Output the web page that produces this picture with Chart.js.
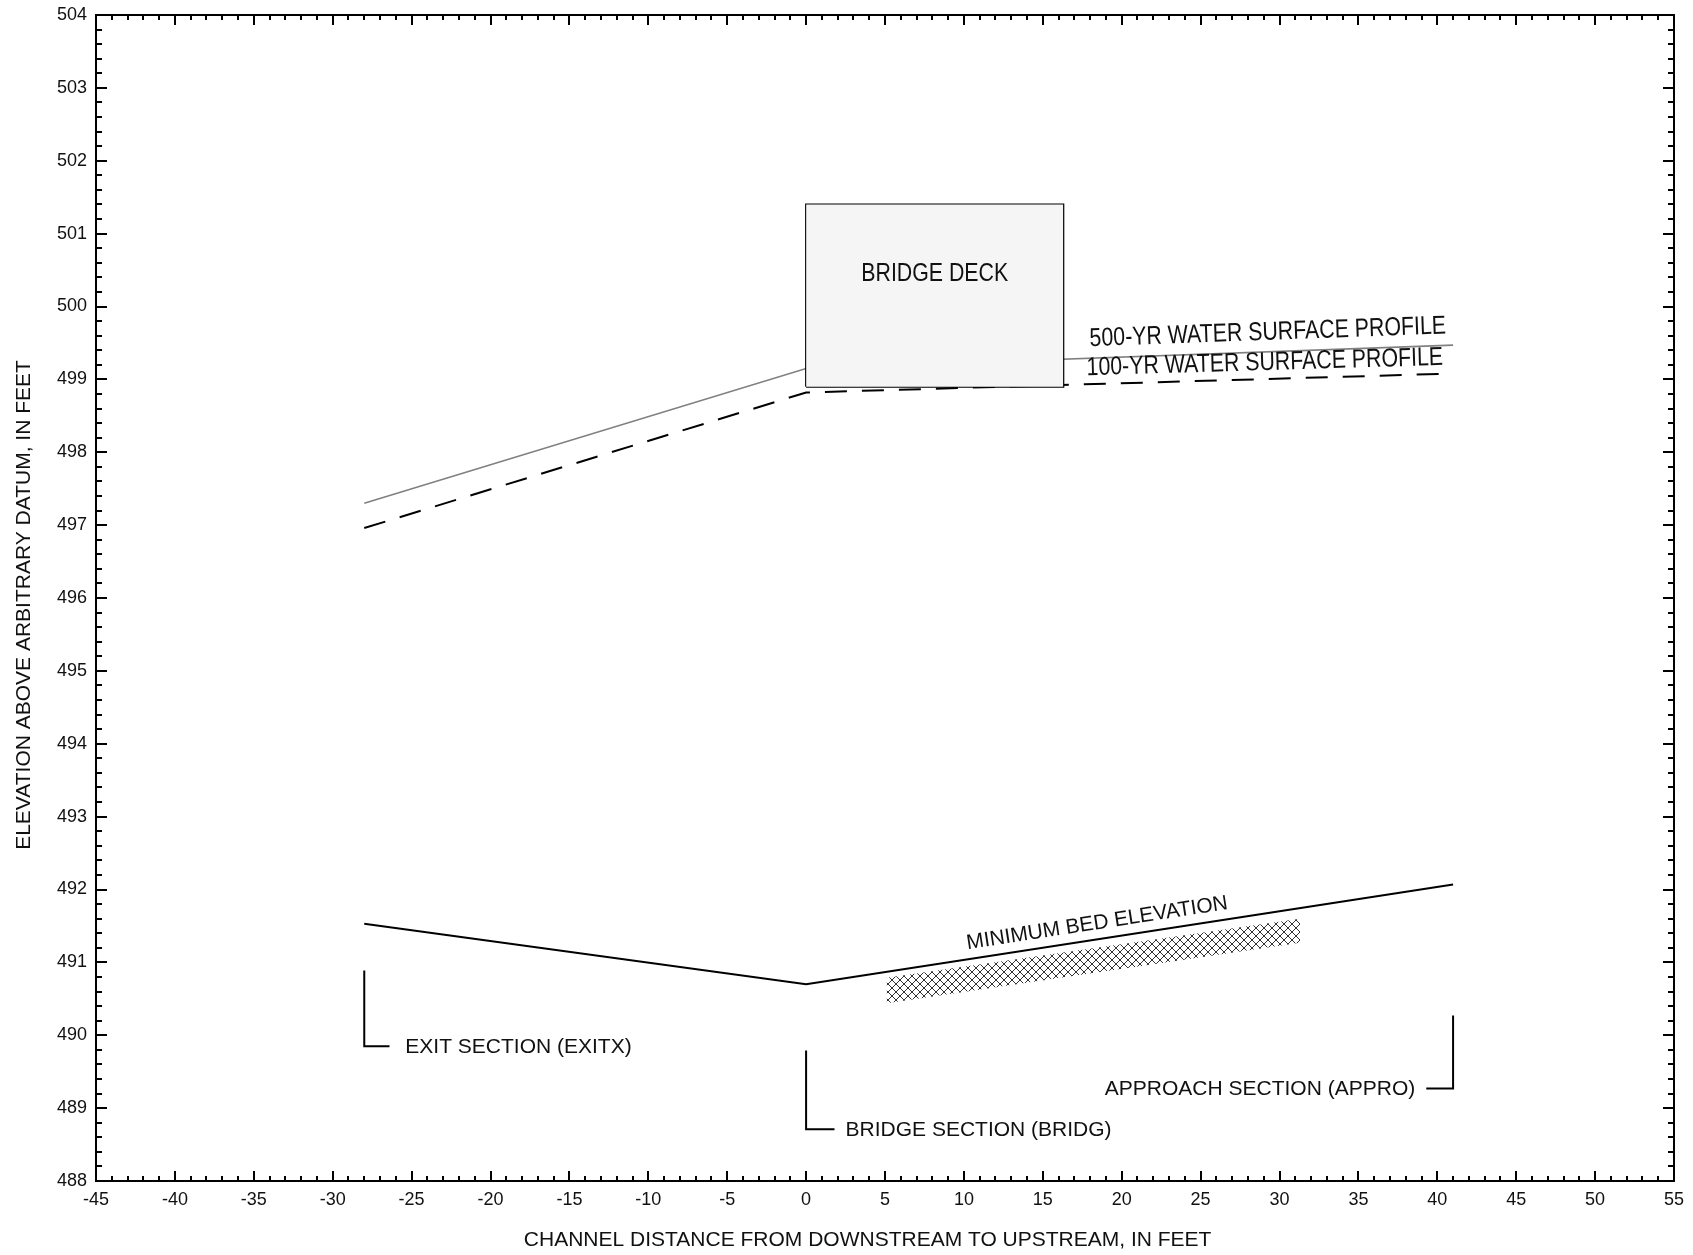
<!DOCTYPE html>
<html>
<head>
<meta charset="utf-8">
<script src="https://cdn.jsdelivr.net/npm/chart.js@4.4.1/dist/chart.umd.min.js"></script>
<style>
  html, body { margin: 0; padding: 0; background: #ffffff; }
  #wrap { width: 1693px; height: 1255px; }
</style>
</head>
<body>
<div id="wrap"><canvas id="profileChart" width="1693" height="1255"></canvas></div>
<script>
// Stations of the three cross sections (ft) and elevations
const stations = [-28, 0, 41];
const ws500 = [497.30, 499.15, 499.47];
const ws100 = [496.96, 498.82, 499.08];
const minBed = [491.53, 490.70, 492.07];

// Bridge deck outline
const deckX = [0, 0, 16.3, 16.3, 0];
const deckY = [498.9, 501.4, 501.4, 498.9, 498.9];

// Hatched band below the bed line
const bandX = [5.1, 31.3];
const bandTop = [490.79, 491.60];
const bandBottom = [490.44, 491.27];

// Section leaders: station, top, bottom, end of the short stub, label start
const leaderX = [-28, 0, 41];
const leaderTop = [490.89, 489.79, 490.27];
const leaderBottom = [489.85, 488.71, 489.27];
const leaderEnd = [-26.4, 1.8, 39.3];
const sectionNames = ['EXIT SECTION (EXITX)', 'BRIDGE SECTION (BRIDG)', 'APPROACH SECTION (APPRO)'];
const sectionLabelX = [-25.4, 2.5, 38.6];

// Axis ranges and tick spacing
const xRange = [-45, 55];
const yRange = [488, 504];
const xMajor = 5, xMinor = 1;
const yMajor = 1, yMinor = 0.2;

const FONT = "'Liberation Sans', Arial, Helvetica, sans-serif";
const INK = '#111111';

const series = { ws500, ws100, minBed };

function pts(xs, ys) {
  return xs.map((x, i) => ({ x: x, y: ys[i] }));
}

// Crosshatch used for the band under the bed
function makeHatch() {
  const c = document.createElement('canvas');
  c.width = 8;
  c.height = 8;
  const g = c.getContext('2d');
  g.strokeStyle = '#333333';
  g.lineWidth = 1;
  g.beginPath();
  g.moveTo(0, 0); g.lineTo(8, 8);
  g.moveTo(8, 0); g.lineTo(0, 8);
  g.stroke();
  return g.createPattern(c, 'repeat');
}

function segmentIndex(xs, x) {
  for (let i = 0; i < xs.length - 1; i++) {
    if (x >= xs[i] && x <= xs[i + 1]) return i;
  }
  return xs.length - 2;
}

function valueAt(xs, ys, x) {
  const i = segmentIndex(xs, x);
  const t = (x - xs[i]) / (xs[i + 1] - xs[i]);
  return ys[i] + t * (ys[i + 1] - ys[i]);
}

const lineLabels = [
  { text: '500-YR WATER SURFACE PROFILE', key: 'ws500', at: 29.3, lift: 12, narrow: true },
  { text: '100-YR WATER SURFACE PROFILE', key: 'ws100', at: 29.1, lift: 9, narrow: true },
  { text: 'MINIMUM BED ELEVATION', key: 'minBed', at: 18.6, lift: 10, narrow: false }
];

// Frame with inward ticks on all four sides
const framePlugin = {
  id: 'frame',
  afterDraw(chart) {
    const { ctx, chartArea: a, scales } = chart;
    const xs = scales.x, ys = scales.y;
    ctx.save();
    ctx.strokeStyle = '#000000';
    ctx.lineWidth = 2;
    ctx.beginPath();
    for (let v = xRange[0]; v <= xRange[1] + 1e-9; v += xMinor) {
      const px = Math.round(xs.getPixelForValue(v));
      const len = Math.abs(v % xMajor) < 1e-9 ? 10 : 5;
      ctx.moveTo(px, a.bottom); ctx.lineTo(px, a.bottom - len);
      ctx.moveTo(px, a.top); ctx.lineTo(px, a.top + len);
    }
    const nY = Math.round((yRange[1] - yRange[0]) / yMinor);
    for (let k = 0; k <= nY; k++) {
      const py = Math.round(ys.getPixelForValue(yRange[0] + k * yMinor));
      const len = k % Math.round(yMajor / yMinor) === 0 ? 11 : 6;
      ctx.moveTo(a.left, py); ctx.lineTo(a.left + len, py);
      ctx.moveTo(a.right, py); ctx.lineTo(a.right - len, py);
    }
    ctx.stroke();
    ctx.strokeRect(a.left, a.top, a.right - a.left, a.bottom - a.top);

    // axis titles
    ctx.fillStyle = INK;
    ctx.font = '21px ' + FONT;
    ctx.textAlign = 'center';
    ctx.textBaseline = 'middle';
    ctx.fillText('CHANNEL DISTANCE FROM DOWNSTREAM TO UPSTREAM, IN FEET', a.left + (a.right - a.left) * 0.489, 1240);
    ctx.translate(24, (a.top + a.bottom) / 2 + 7);
    ctx.rotate(-Math.PI / 2);
    ctx.fillText('ELEVATION ABOVE ARBITRARY DATUM, IN FEET', 0, 0);
    ctx.restore();
  }
};

// Annotations placed through the scales
const notesPlugin = {
  id: 'notes',
  afterDatasetsDraw(chart) {
    const { ctx, scales } = chart;
    const xs = scales.x, ys = scales.y;
    ctx.save();
    ctx.fillStyle = INK;

    // bridge deck label
    ctx.font = '26px ' + FONT;
    ctx.textAlign = 'center';
    ctx.textBaseline = 'middle';
    ctx.save();
    ctx.translate(xs.getPixelForValue(8.15), ys.getPixelForValue(500.45));
    ctx.scale(0.82, 1);
    ctx.fillText('BRIDGE DECK', 0, 0);
    ctx.restore();

    // labels along the profile lines
    lineLabels.forEach(lab => {
      const ysData = series[lab.key];
      const i = segmentIndex(stations, lab.at);
      const x0 = xs.getPixelForValue(stations[i]), y0 = ys.getPixelForValue(ysData[i]);
      const x1 = xs.getPixelForValue(stations[i + 1]), y1 = ys.getPixelForValue(ysData[i + 1]);
      const ang = Math.atan2(y1 - y0, x1 - x0);
      ctx.save();
      ctx.translate(xs.getPixelForValue(lab.at), ys.getPixelForValue(valueAt(stations, ysData, lab.at)));
      ctx.rotate(ang);
      ctx.textAlign = 'center';
      ctx.textBaseline = 'alphabetic';
      if (lab.narrow) {
        ctx.font = '26px ' + FONT;
        ctx.scale(0.82, 1);
      } else {
        ctx.font = '21px ' + FONT;
      }
      ctx.fillText(lab.text, 0, -lab.lift);
      ctx.restore();
    });

    // section names
    ctx.font = '21px ' + FONT;
    ctx.textBaseline = 'middle';
    sectionNames.forEach((name, i) => {
      ctx.textAlign = leaderEnd[i] < leaderX[i] ? 'right' : 'left';
      ctx.fillText(name, xs.getPixelForValue(sectionLabelX[i]), ys.getPixelForValue(leaderBottom[i]) + 1);
    });
    ctx.restore();
  }
};

function initChart() {
  Chart.defaults.font.family = FONT;
  Chart.defaults.color = INK;

  const hatch = makeHatch();
  const datasets = [
    {
      label: 'deck fill',
      data: pts([deckX[1], deckX[2]], [deckY[1], deckY[2]]),
      borderColor: 'rgba(0,0,0,0)',
      backgroundColor: '#f5f5f5',
      fill: { value: deckY[0] },
      order: 0
    },
    {
      label: 'deck',
      data: pts(deckX, deckY),
      borderColor: '#000000',
      borderWidth: 2,
      fill: false,
      order: 0
    },
    {
      label: '500-yr',
      data: pts(stations, ws500),
      borderColor: '#808080',
      borderWidth: 1.6,
      order: 2
    },
    {
      label: '100-yr',
      data: pts(stations, ws100),
      borderColor: '#000000',
      borderWidth: 2,
      borderDash: [22, 15],
      order: 1
    },
    {
      label: 'min bed',
      data: pts(stations, minBed),
      borderColor: '#000000',
      borderWidth: 2,
      order: 1
    },
    {
      label: 'band top',
      data: pts(bandX, bandTop),
      borderColor: 'rgba(0,0,0,0)',
      order: 3
    },
    {
      label: 'band',
      data: pts(bandX, bandBottom),
      borderColor: 'rgba(0,0,0,0)',
      backgroundColor: hatch,
      fill: '-1',
      order: 3
    }
  ];
  leaderX.forEach((x, i) => {
    datasets.push({
      label: sectionNames[i],
      data: pts([x, x, leaderEnd[i]], [leaderTop[i], leaderBottom[i], leaderBottom[i]]),
      borderColor: '#000000',
      borderWidth: 2,
      order: 1
    });
  });
  datasets.forEach(d => {
    d.showLine = true;
    d.pointRadius = 0;
    d.tension = 0;
    if (d.fill === undefined) d.fill = false;
  });

  const ctx = document.getElementById('profileChart').getContext('2d');
  new Chart(ctx, {
    type: 'scatter',
    data: { datasets },
    options: {
      responsive: false,
      animation: false,
      events: [],
      layout: { padding: { top: 15, right: 19, left: 0, bottom: 0 } },
      plugins: {
        legend: { display: false },
        tooltip: { enabled: false }
      },
      scales: {
        x: {
          type: 'linear',
          min: xRange[0],
          max: xRange[1],
          grid: { display: false, drawTicks: false },
          border: { display: false },
          ticks: {
            stepSize: xMajor,
            autoSkip: false,
            maxRotation: 0,
            padding: 8,
            color: INK,
            font: { size: 18 }
          },
          afterFit(scale) {
            scale.height = 74;
            scale.paddingLeft = 0;
            scale.paddingRight = 0;
          }
        },
        y: {
          type: 'linear',
          min: yRange[0],
          max: yRange[1],
          grid: { display: false, drawTicks: false },
          border: { display: false },
          ticks: {
            stepSize: yMajor,
            autoSkip: false,
            padding: 9,
            color: INK,
            font: { size: 18 }
          },
          afterFit(scale) {
            scale.width = 96;
            scale.paddingTop = 0;
            scale.paddingBottom = 0;
          }
        }
      }
    },
    plugins: [framePlugin, notesPlugin]
  });
}

window.onload = initChart;
</script>
</body>
</html>
